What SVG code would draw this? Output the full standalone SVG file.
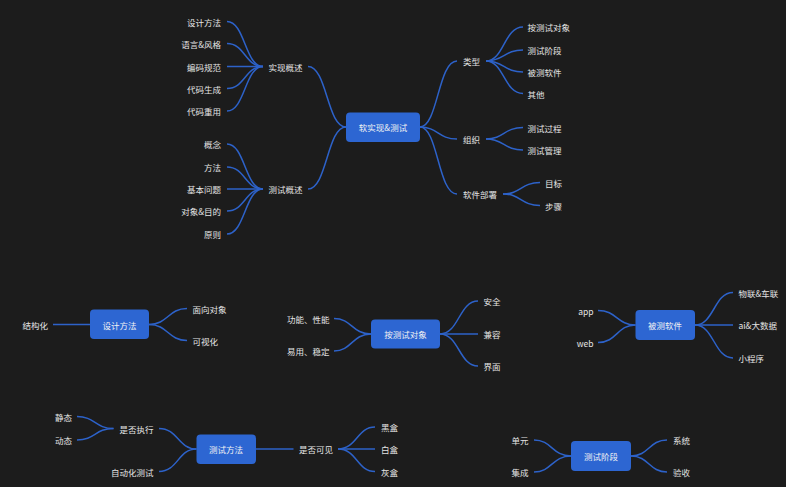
<svg xmlns="http://www.w3.org/2000/svg" width="786" height="487" viewBox="0 0 786 487">
<style>
.t{font-family:"Noto Sans CJK SC","Noto Sans",sans-serif;font-size:8.5px;fill:#e4e4e4;dominant-baseline:central}
.e{text-anchor:end}
.m{text-anchor:middle;fill:#f2f2f2}
.b{fill:#2d66d2;rx:4px;ry:4px}
.c path{fill:none;stroke:#2d62c9;stroke-width:1.5}
</style>
<rect width="786" height="487" fill="#1c1c1c"/>
<g class="c" id="connectors">
<path d="M308 66.5C327 66.5 327 127 346 127"/>
<path d="M308 189C327 189 327 127 346 127"/>
<path d="M227 21.5C245 21.5 245 66.5 263 66.5"/>
<path d="M227 43.5C245 43.5 245 66.5 263 66.5"/>
<path d="M227 66.5L263 66.5"/>
<path d="M227 88.5C245 88.5 245 66.5 263 66.5"/>
<path d="M227 111C245 111 245 66.5 263 66.5"/>
<path d="M227 144C245 144 245 189 263 189"/>
<path d="M227 167C245 167 245 189 263 189"/>
<path d="M227 189L263 189"/>
<path d="M227 211C245 211 245 189 263 189"/>
<path d="M227 234C245 234 245 189 263 189"/>
<path d="M420 127C438 127 438 61 457 61"/>
<path d="M420 127C438 127 438 139 457 139"/>
<path d="M420 127C438 127 438 194 457 194"/>
<path d="M486 61C504 61 504 27 523 27"/>
<path d="M486 61C504 61 504 50 523 50"/>
<path d="M486 61C504 61 504 72 523 72"/>
<path d="M486 61C504 61 504 93.5 523 93.5"/>
<path d="M486 139C504 139 504 127.5 523 127.5"/>
<path d="M486 139C504 139 504 150 523 150"/>
<path d="M503 194C521 194 521 182.5 540 182.5"/>
<path d="M503 194C521 194 521 205.5 540 205.5"/>
<path d="M53 324.5L90 324.5"/>
<path d="M149 324.5C168 324.5 168 308.5 187 308.5"/>
<path d="M149 324.5C168 324.5 168 340.5 187 340.5"/>
<path d="M334 318.5C352 318.5 352 334 371 334"/>
<path d="M334 351C352 351 352 334 371 334"/>
<path d="M440 334C459 334 459 301 478 301"/>
<path d="M440 334L478 334"/>
<path d="M440 334C459 334 459 366 478 366"/>
<path d="M598 310.5C617 310.5 617 325 635.5 325"/>
<path d="M598 342.5C617 342.5 617 325 635.5 325"/>
<path d="M695 325C714 325 714 292.5 733 292.5"/>
<path d="M695 325L733 325"/>
<path d="M695 325C714 325 714 358 733 358"/>
<path d="M159 428.5C178 428.5 178 449 196.5 449"/>
<path d="M159 471.5C178 471.5 178 449 196.5 449"/>
<path d="M77 416.5C95 416.5 95 428.5 113.5 428.5"/>
<path d="M77 440C95 440 95 428.5 113.5 428.5"/>
<path d="M256 449L293.5 449"/>
<path d="M338 449C357 449 357 427 375 427"/>
<path d="M338 449L375 449"/>
<path d="M338 449C357 449 357 471.5 375 471.5"/>
<path d="M534 440C552 440 552 456 571 456"/>
<path d="M534 472C552 472 552 456 571 456"/>
<path d="M631 456C649 456 649 440 667 440"/>
<path d="M631 456C649 456 649 472 667 472"/>
</g>
<g id="root"><rect class="b" x="346" y="112.5" width="74" height="29.5"/><text class="t m" x="383" y="127">软实现&amp;测试</text></g>
<g id="impl"><text class="t" x="268.5" y="66.5">实现概述</text></g>
<g id="impl-1"><text class="t e" x="221" y="21.5">设计方法</text></g>
<g id="impl-2"><text class="t e" x="221" y="43.5">语言&amp;风格</text></g>
<g id="impl-3"><text class="t e" x="221" y="66.5">编码规范</text></g>
<g id="impl-4"><text class="t e" x="221" y="88.5">代码生成</text></g>
<g id="impl-5"><text class="t e" x="221" y="111">代码重用</text></g>
<g id="test"><text class="t" x="268.5" y="189">测试概述</text></g>
<g id="test-1"><text class="t e" x="221" y="144">概念</text></g>
<g id="test-2"><text class="t e" x="221" y="167">方法</text></g>
<g id="test-3"><text class="t e" x="221" y="189">基本问题</text></g>
<g id="test-4"><text class="t e" x="221" y="211">对象&amp;目的</text></g>
<g id="test-5"><text class="t e" x="221" y="234">原则</text></g>
<g id="type"><text class="t" x="463" y="61">类型</text></g>
<g id="type-1"><text class="t" x="527.5" y="27">按测试对象</text></g>
<g id="type-2"><text class="t" x="527.5" y="50">测试阶段</text></g>
<g id="type-3"><text class="t" x="527.5" y="72">被测软件</text></g>
<g id="type-4"><text class="t" x="527.5" y="93.5">其他</text></g>
<g id="org"><text class="t" x="463" y="139">组织</text></g>
<g id="org-1"><text class="t" x="527.5" y="127.5">测试过程</text></g>
<g id="org-2"><text class="t" x="527.5" y="150">测试管理</text></g>
<g id="deploy"><text class="t" x="463" y="194">软件部署</text></g>
<g id="deploy-1"><text class="t" x="545" y="182.5">目标</text></g>
<g id="deploy-2"><text class="t" x="545" y="205.5">步骤</text></g>
<g id="design"><rect class="b" x="90" y="309.5" width="59" height="29.5"/><text class="t m" x="119.5" y="324.5">设计方法</text></g>
<g id="design-1"><text class="t e" x="48" y="325">结构化</text></g>
<g id="design-2"><text class="t" x="192.5" y="308.5">面向对象</text></g>
<g id="design-3"><text class="t" x="192.5" y="341">可视化</text></g>
<g id="byobj"><rect class="b" x="371" y="319.5" width="69" height="29"/><text class="t m" x="405.5" y="334">按测试对象</text></g>
<g id="byobj-1"><text class="t e" x="329.5" y="318.5">功能、性能</text></g>
<g id="byobj-2"><text class="t e" x="329.5" y="351">易用、稳定</text></g>
<g id="byobj-3"><text class="t" x="483.5" y="301">安全</text></g>
<g id="byobj-4"><text class="t" x="483.5" y="334">兼容</text></g>
<g id="byobj-5"><text class="t" x="483.5" y="366">界面</text></g>
<g id="sut"><rect class="b" x="635.5" y="310" width="59.5" height="30"/><text class="t m" x="665" y="325">被测软件</text></g>
<g id="sut-1"><text class="t e" x="593.5" y="310.5">app</text></g>
<g id="sut-2"><text class="t e" x="593.5" y="342.5">web</text></g>
<g id="sut-3"><text class="t" x="738.5" y="292.5">物联&amp;车联</text></g>
<g id="sut-4"><text class="t" x="738.5" y="325">ai&amp;大数据</text></g>
<g id="sut-5"><text class="t" x="738.5" y="358">小程序</text></g>
<g id="method"><rect class="b" x="196.5" y="434.5" width="59.5" height="29.5"/><text class="t m" x="226" y="449">测试方法</text></g>
<g id="exec"><text class="t e" x="153.5" y="428.5">是否执行</text></g>
<g id="exec-1"><text class="t e" x="72" y="416.5">静态</text></g>
<g id="exec-2"><text class="t e" x="72" y="440">动态</text></g>
<g id="auto"><text class="t e" x="153.5" y="471.5">自动化测试</text></g>
<g id="vis"><text class="t" x="299" y="449">是否可见</text></g>
<g id="vis-1"><text class="t" x="381" y="427">黑盒</text></g>
<g id="vis-2"><text class="t" x="381" y="449">白盒</text></g>
<g id="vis-3"><text class="t" x="381" y="471.5">灰盒</text></g>
<g id="stage"><rect class="b" x="571" y="441" width="60" height="30"/><text class="t m" x="601" y="456">测试阶段</text></g>
<g id="stage-1"><text class="t e" x="528.5" y="440">单元</text></g>
<g id="stage-2"><text class="t e" x="528.5" y="472">集成</text></g>
<g id="stage-3"><text class="t" x="673" y="440">系统</text></g>
<g id="stage-4"><text class="t" x="673" y="472">验收</text></g>
</svg>
